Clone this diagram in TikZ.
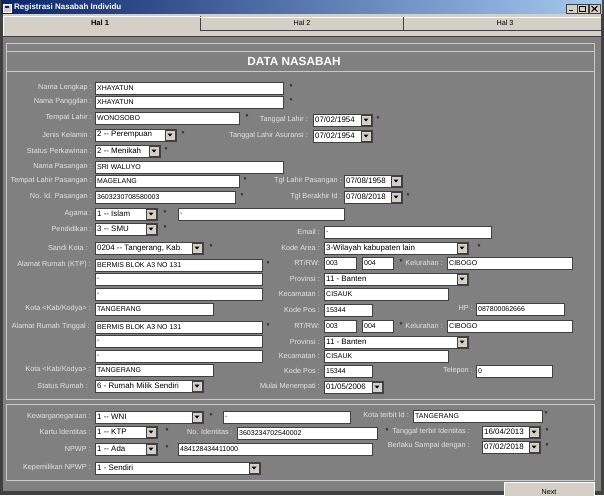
\documentclass[tikz,border=0pt]{standalone}
\usepackage{fontspec}
\setmainfont{Liberation Sans}

\definecolor{fondo}{HTML}{808080}
\definecolor{panel}{HTML}{D4D0C8}
\definecolor{etiqgris}{HTML}{E6E6E6}
\definecolor{bordeosc}{HTML}{404040}
\definecolor{marco}{HTML}{CACACA}
\definecolor{azulosc}{HTML}{0A246A}
\definecolor{azulcla}{HTML}{A6CAF0}

\tikzset{
  etiq/.style={anchor=east, inner sep=0pt, text=etiqgris, font=\fontsize{7.3}{8}\selectfont},
  valor/.style={anchor=west, inner sep=0pt, font=\fontsize{7}{8}\selectfont},
  caja/.style={fill=white, draw=bordeosc, line width=0.6pt},
  boton/.style={fill=panel, draw=bordeosc, line width=0.5pt},
  ast/.style={inner sep=0pt, font=\fontsize{7.5}{8}\selectfont},
  linmarco/.style={draw=marco, line width=0.8pt},
}

% campo: nombre, x1, x2, y, texto
\newcommand{\campo}[5]{%
  \draw[caja] (#2,#4-6) rectangle (#3,#4+6);
  \node[valor] (#1) at (#2+2,#4) {#5};}
% lista con botón
\newcommand{\lista}[5]{%
  \draw[caja] (#2,#4-6) rectangle (#3,#4+6);
  \node[valor, font=\fontsize{7.9}{8}\selectfont] (#1) at (#2+2,#4) {#5};
  \draw[boton] (#3-11,#4-5) rectangle (#3-1,#4+5);
  \fill (#3-8.5,#4-1.5) -- (#3-3.5,#4-1.5) -- (#3-6,#4+1.5) -- cycle;}
\newcommand{\etiqueta}[4]{\node[etiq] (#1) at (#2,#3) {#4};}
\newcommand{\guiones}{-\kern0pt-}
\newcounter{nast}
\newcommand{\obl}[2]{\stepcounter{nast}\node[ast] (ast\arabic{nast}) at (#1,#2-1.5) {*};}

\begin{document}
\begin{tikzpicture}[x=1pt,y=-1pt]
\useasboundingbox (0,0) rectangle (604,495);

% Ventana
\fill[bordeosc] (0,0) rectangle (604,495);
\shade[left color=azulosc, right color=azulcla] (1,1) rectangle (602,14);
\fill[panel] (3,14) rectangle (601,37);
\fill[fondo] (3,37) rectangle (601,491);

% Barra de título
\filldraw[fill=panel, draw=white, line width=0.5pt] (3,4) rectangle (11,12);
\fill[azulosc] (5,6) rectangle (9,8);
\node[anchor=west, inner sep=0pt, text=white, font=\fontsize{8}{9}\selectfont\bfseries] (titulo) at (14,7.5) {Registrasi Nasabah Individu};
\draw[boton] (566,4) rectangle (577,13);
\draw[line width=1.4pt] (569,10.8) -- (573,10.8);
\draw[boton] (577,4) rectangle (588,13);
\draw[line width=0.6pt] (579.5,6.5) rectangle (585.5,11.5);
\draw[line width=1.2pt] (579.5,6.6) -- (585.5,6.6);
\draw[boton] (589,4) rectangle (600,13);
\draw[line width=1pt] (591.5,6) -- (597.5,11.5) (597.5,6) -- (591.5,11.5);

% Pestañas
\draw[white, line width=0.8pt] (3.5,36) -- (3.5,16.5) -- (200,16.5);
\draw[bordeosc, line width=0.6pt] (200,16.5) -- (200,30);
\draw[white, line width=0.6pt] (200,17) -- (403,17) (403,17) -- (601,17);
\draw[bordeosc, line width=0.6pt] (403,17) -- (403,30);
\draw[bordeosc, line width=0.8pt] (200,30) -- (601,30);
\draw[bordeosc, line width=1.2pt] (3,36.5) -- (601,36.5);
\node[inner sep=0pt, font=\fontsize{7.5}{8}\selectfont\bfseries] (hal1) at (100,23) {Hal 1};
\node[inner sep=0pt, font=\fontsize{7.2}{8}\selectfont] (hal2) at (302,23) {Hal 2};
\node[inner sep=0pt, font=\fontsize{7.2}{8}\selectfont] (hal3) at (505,23) {Hal 3};

% Marcos
\draw[linmarco] (6,43) rectangle (594,399);
\draw[linmarco] (6,51) rectangle (594,71);
\draw[linmarco] (6,404) rectangle (594,480);
\node[inner sep=0pt, text=white, font=\fontsize{11.8}{12}\selectfont\bfseries] (datos) at (294,61) {DATA NASABAH};

% Columna izquierda
\etiqueta{lNamaL}{92}{88}{Nama Lengkap :}
\etiqueta{lNamaP}{92}{102}{Nama Panggilan :}
\etiqueta{lTmpL}{92}{118}{Tempat Lahir :}
\etiqueta{lJK}{92}{135}{Jenis Kelamin :}
\etiqueta{lSP}{92}{151}{Status Perkawinan :}
\etiqueta{lNPas}{92}{167}{Nama Pasangan :}
\etiqueta{lTLP}{92}{181}{Tempat Lahir Pasangan :}
\etiqueta{lNoId}{92}{197}{No. Id. Pasangan :}
\etiqueta{lAgama}{92}{214}{Agama :}
\etiqueta{lPend}{92}{229}{Pendidikan :}
\etiqueta{lSandi}{88}{248}{Sandi Kota :}
\etiqueta{lAlKTP}{91}{265}{Alamat Rumah (KTP) :}
\etiqueta{lKota1}{91}{309}{Kota <Kab/Kodya> :}
\etiqueta{lAlTgl}{90}{327}{Alamat Rumah Tinggal :}
\etiqueta{lKota2}{91}{370}{Kota <Kab/Kodya> :}
\etiqueta{lStR}{88}{386}{Status Rumah :}

\campo{fNamaL}{95}{283}{88}{XHAYATUN}
\campo{fNamaP}{95}{283}{102}{XHAYATUN}
\campo{fTmpL}{95}{239}{118}{WONOSOBO}
\lista{fJK}{95}{176}{135}{2 \guiones{} Perempuan}
\lista{fSP}{95}{160}{151}{2 \guiones{} Menikah}
\campo{fNPas}{95}{283}{167}{SRI WALUYO}
\campo{fTLP}{95}{239}{181}{MAGELANG}
\campo{fNoId}{95}{235}{197}{3603230708580003}
\lista{fAgama}{95}{157}{214}{1 \guiones{} Islam}
\campo{fAgama2}{178}{344}{214}{-}
\lista{fPend}{95}{157}{229}{3 \guiones{} SMU}
\lista{fSandi}{95}{203}{248}{0204 \guiones{} Tangerang, Kab.}
\campo{fAl1}{95}{262}{265}{BERMIS BLOK A3 NO 131}
\campo{fAl2}{95}{262}{279}{-}
\campo{fAl3}{95}{262}{294}{-}
\campo{fKota1}{95}{213}{309}{TANGERANG}
\campo{fTg1}{95}{262}{327}{BERMIS BLOK A3 NO 131}
\campo{fTg2}{95}{262}{341}{-}
\campo{fTg3}{95}{262}{356}{-}
\campo{fKota2}{95}{213}{370}{TANGERANG}
\lista{fStR}{95}{203}{386}{6 - Rumah Milik Sendiri}

% Columna derecha
\etiqueta{lTglL}{308}{120}{Tanggal Lahir :}
\etiqueta{lTglA}{308}{136}{Tanggal Lahir Asuransi :}
\etiqueta{lTglP}{342}{181}{Tgl Lahir Pasangan :}
\etiqueta{lTglB}{342}{197}{Tgl Berakhir Id :}
\etiqueta{lEmail}{320}{232}{Email :}
\etiqueta{lArea}{320}{248}{Kode Area :}
\etiqueta{lRT1}{320}{263}{RT/RW:}
\etiqueta{lKel1}{443}{263}{Kelurahan :}
\etiqueta{lProv1}{320}{279}{Provinsi :}
\etiqueta{lKec1}{320}{294}{Kecamatan :}
\etiqueta{lPos1}{320}{310}{Kode Pos :}
\etiqueta{lHP}{473}{308}{HP :}
\etiqueta{lRT2}{320}{326}{RT/RW:}
\etiqueta{lKel2}{443}{326}{Kelurahan :}
\etiqueta{lProv2}{320}{342}{Provinsi :}
\etiqueta{lKec2}{320}{356}{Kecamatan :}
\etiqueta{lPos2}{320}{371}{Kode Pos :}
\etiqueta{lTelp}{473}{371}{Telepon :}
\etiqueta{lMulai}{320}{387}{Mulai Menempati :}

\lista{fTglL}{313}{372}{120}{07/02/1954}
\lista{fTglA}{313}{372}{136}{07/02/1954}
\lista{fTglP}{344}{402}{181}{07/08/1958}
\lista{fTglB}{344}{402}{197}{07/08/2018}
\campo{fEmail}{324}{491}{232}{-}
\lista{fArea}{324}{468}{248}{3-Wilayah kabupaten lain}
\campo{fRT1}{324}{356}{263}{003}
\campo{fRW1}{362}{393}{263}{004}
\campo{fKel1}{447}{572}{263}{CIBOGO}
\lista{fProv1}{324}{468}{279}{11 - Banten}
\campo{fKec1}{324}{448}{294}{CISAUK}
\campo{fPos1}{324}{372}{310}{15344}
\campo{fHP}{476}{564}{309}{087800062666}
\campo{fRT2}{324}{356}{326}{003}
\campo{fRW2}{362}{393}{326}{004}
\campo{fKel2}{447}{572}{326}{CIBOGO}
\lista{fProv2}{324}{468}{342}{11 - Banten}
\campo{fKec2}{324}{448}{356}{CISAUK}
\campo{fPos2}{324}{372}{371}{15344}
\campo{fTelp}{476}{552}{371}{0}
\lista{fMulai}{324}{383}{387}{01/05/2006}

% Identidad
\etiqueta{lWN}{91}{417}{Kewarganegaraan :}
\etiqueta{lKartu}{91}{432}{Kartu Identitas :}
\etiqueta{lNPWP}{91}{449}{NPWP :}
\etiqueta{lKep}{91}{468}{Kepemilikan NPWP :}
\etiqueta{lNoIdent}{233}{432}{No. Identitas :}
\etiqueta{lKotaT}{409}{415}{Kota terbit Id :}
\etiqueta{lTglT}{470}{432}{Tanggal terbit Identitas :}
\etiqueta{lBerl}{470}{446}{Berlaku Sampai dengan :}

\lista{fWN}{95}{203}{417}{1 \guiones{} WNI}
\campo{fWN2}{223}{350}{417}{-}
\lista{fKartu}{95}{157}{432}{1 \guiones{} KTP}
\campo{fNoIdent}{237}{377}{433}{3603234702540002}
\lista{fNPWP}{95}{157}{449}{1 \guiones{} Ada}
\campo{fNPWP2}{178}{372}{449}{484128434411000}
\lista{fKep}{95}{260}{468}{1 - Sendiri}
\campo{fKotaT}{413}{542}{416}{TANGERANG}
\lista{fTglT}{482}{540}{432}{16/04/2013}
\lista{fBerl}{482}{540}{447}{07/02/2018}

% Obligatorios
\obl{291}{88} \obl{291}{102} \obl{247}{118} \obl{378}{120}
\obl{183}{135} \obl{166}{151} \obl{245}{181} \obl{242}{197}
\obl{408}{197} \obl{165}{214} \obl{165}{229} \obl{211}{248}
\obl{479}{248} \obl{268}{265} \obl{401}{263} \obl{268}{327}
\obl{401}{326} \obl{211}{417} \obl{167}{432} \obl{387}{432}
\obl{167}{449} \obl{546}{415} \obl{547}{432} \obl{547}{447}

% Botón Next
\begin{scope}
\clip (0,0) rectangle (604,495);
\filldraw[fill=panel, draw=white, line width=0.6pt] (504,482) rectangle (594,500);
\node[anchor=base, inner sep=0pt, font=\fontsize{7.2}{8}\selectfont] (next) at (549,494.5) {Next};
\end{scope}
\end{tikzpicture}
\end{document}
